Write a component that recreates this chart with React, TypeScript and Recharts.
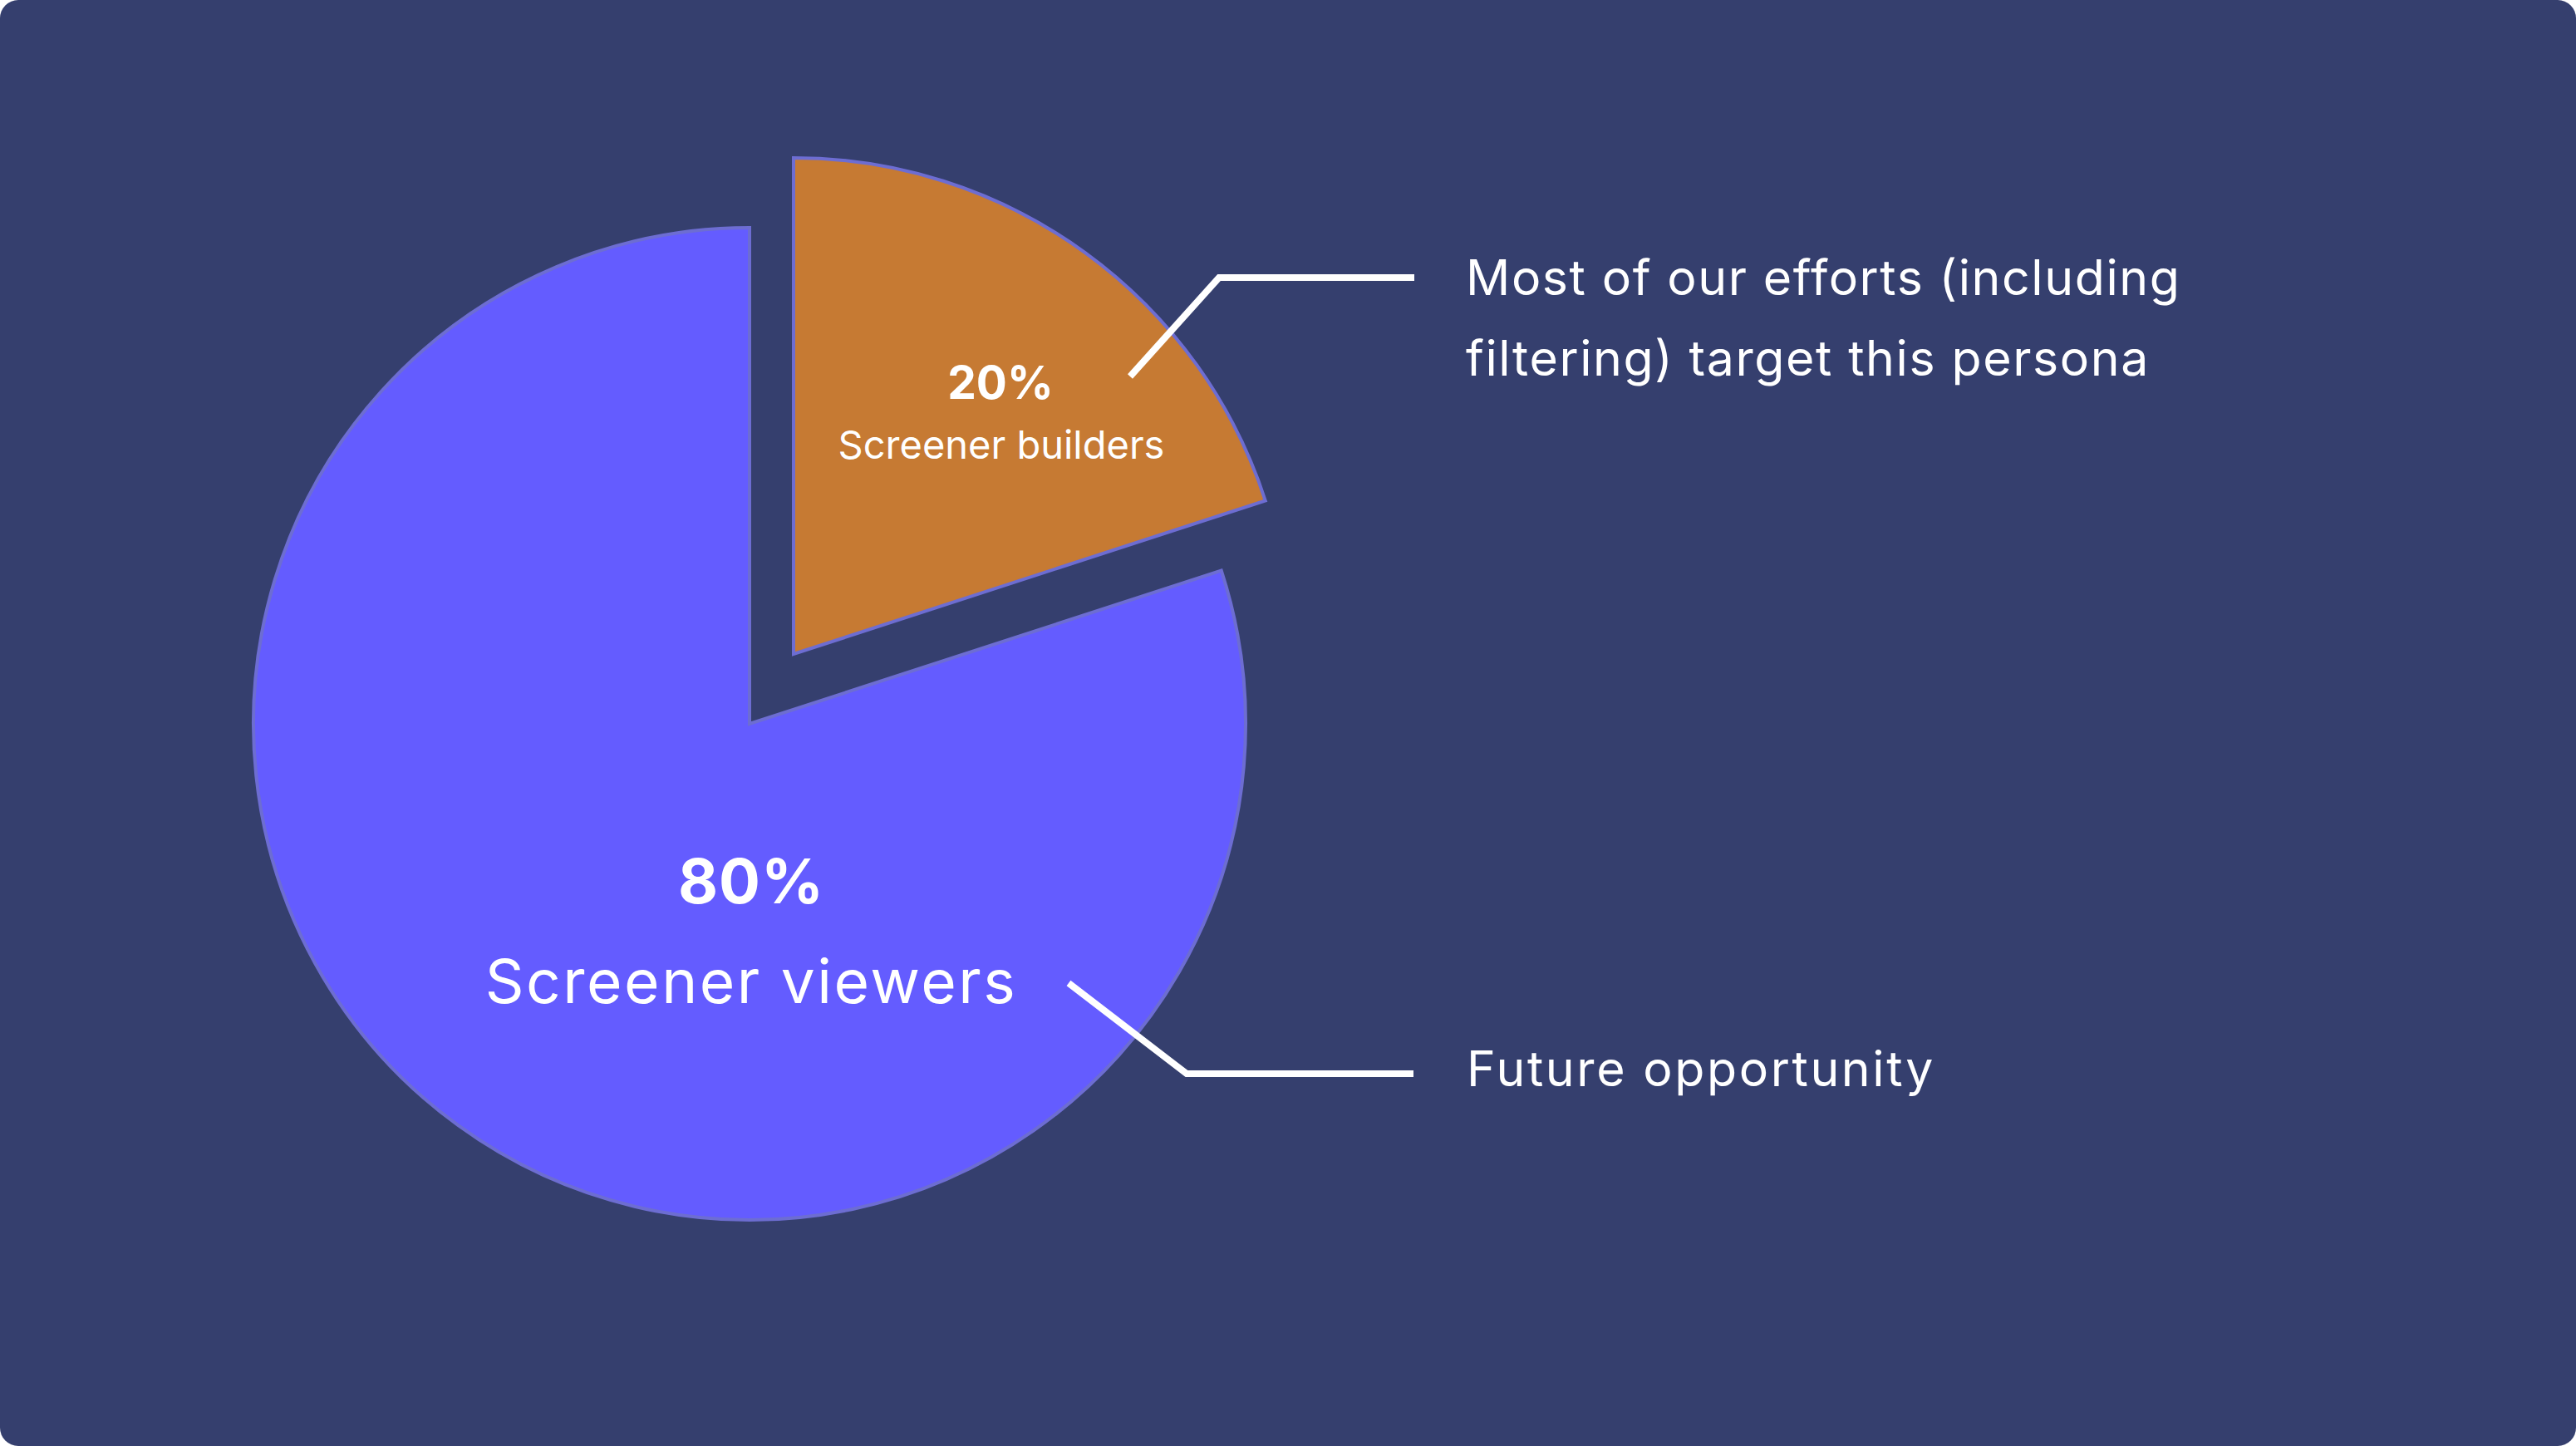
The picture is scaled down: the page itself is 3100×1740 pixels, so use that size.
import { Cell, Pie, PieChart } from "recharts";

const CATEGORIES = ["Screener builders", "Screener viewers"];
const SHARES = [20, 80];
const PERCENT_LABELS = ["20%", "80%"];
const NOTES = [
  ["Most of our efforts (including", "filtering) target this persona"],
  ["Future opportunity"],
];

const BG = "#353f6e";
const COLORS = ["#c67a33", "#645cff"];
const EDGE = "#6d6dd2";
const FONT = "Inter, 'Noto Sans', sans-serif";

const data = CATEGORIES.map((name, i) => ({
  name,
  value: SHARES[i],
  pct: PERCENT_LABELS[i],
  note: NOTES[i],
}));

// label + leader line + side note, placed relative to the slice's own centre
const LAYOUT = [
  {
    pct: { dx: 249, dy: -307, size: 55, ls: 0 },
    name: { dx: 250, dy: -235, size: 47, ls: 0 },
    line: [
      [405, -334],
      [512, -453],
      [747, -453],
    ],
    note: { dx: 809, dy: -432, gap: 97, ls: 1.6 },
  },
  {
    pct: { dx: 2, dy: 216, size: 74, ls: 1 },
    name: { dx: 2, dy: 336, size: 73, ls: 2.5 },
    line: [
      [384, 312],
      [526, 421],
      [799, 421],
    ],
    note: { dx: 863, dy: 436, gap: 97, ls: 2.6 },
  },
];

function makeLabel(showIndex: number) {
  return (props: any) => {
    const { cx, cy, index, payload } = props;
    if (index !== showIndex) return null;
    const l = LAYOUT[index];
    const p = payload?.payload ?? payload;
    return (
      <g key={`lbl-${index}`} fontFamily={FONT} fill="#fff">
        <text
          x={cx + l.pct.dx}
          y={cy + l.pct.dy}
          textAnchor="middle"
          fontSize={l.pct.size}
          fontWeight={700}
          letterSpacing={l.pct.ls}
          fill="#fff"
        >
          {p.pct}
        </text>
        <text
          x={cx + l.name.dx}
          y={cy + l.name.dy}
          textAnchor="middle"
          fontSize={l.name.size}
          letterSpacing={l.name.ls}
          fill="#fff"
        >
          {p.name}
        </text>
        <polyline
          points={l.line.map(([x, y]) => `${cx + x},${cy + y}`).join(" ")}
          fill="none"
          stroke="#fff"
          strokeWidth={8}
        />
        {p.note.map((t: string, k: number) => (
          <text
            key={k}
            x={cx + l.note.dx}
            y={cy + l.note.dy + k * l.note.gap}
            fontSize={59}
            letterSpacing={l.note.ls}
            fill="#fff"
          >
            {t}
          </text>
        ))}
      </g>
    );
  };
}

export default function App() {
  return (
    <div
      style={{
        position: "absolute",
        left: 0,
        top: 0,
        width: 3100,
        height: 1740,
        background: BG,
        borderRadius: 22,
        overflow: "hidden",
      }}
    >
      <PieChart width={3100} height={1740} margin={{ top: 0, right: 0, bottom: 0, left: 0 }}>
        {/* main pie, only the viewers slice is drawn */}
        <Pie
          data={data}
          dataKey="value"
          cx={902}
          cy={871}
          outerRadius={597}
          startAngle={90}
          endAngle={-270}
          isAnimationActive={false}
          labelLine={false}
          label={makeLabel(1)}
        >
          {data.map((d, i) => (
            <Cell
              key={d.name}
              fill={i === 1 ? COLORS[1] : "transparent"}
              stroke={i === 1 ? EDGE : "none"}
              strokeWidth={4}
            />
          ))}
        </Pie>
        {/* exploded builders slice */}
        <Pie
          data={data}
          dataKey="value"
          cx={955}
          cy={787}
          outerRadius={597}
          startAngle={90}
          endAngle={-270}
          isAnimationActive={false}
          labelLine={false}
          label={makeLabel(0)}
        >
          {data.map((d, i) => (
            <Cell
              key={d.name}
              fill={i === 0 ? COLORS[0] : "transparent"}
              stroke={i === 0 ? EDGE : "none"}
              strokeWidth={4}
            />
          ))}
        </Pie>
      </PieChart>
    </div>
  );
}
